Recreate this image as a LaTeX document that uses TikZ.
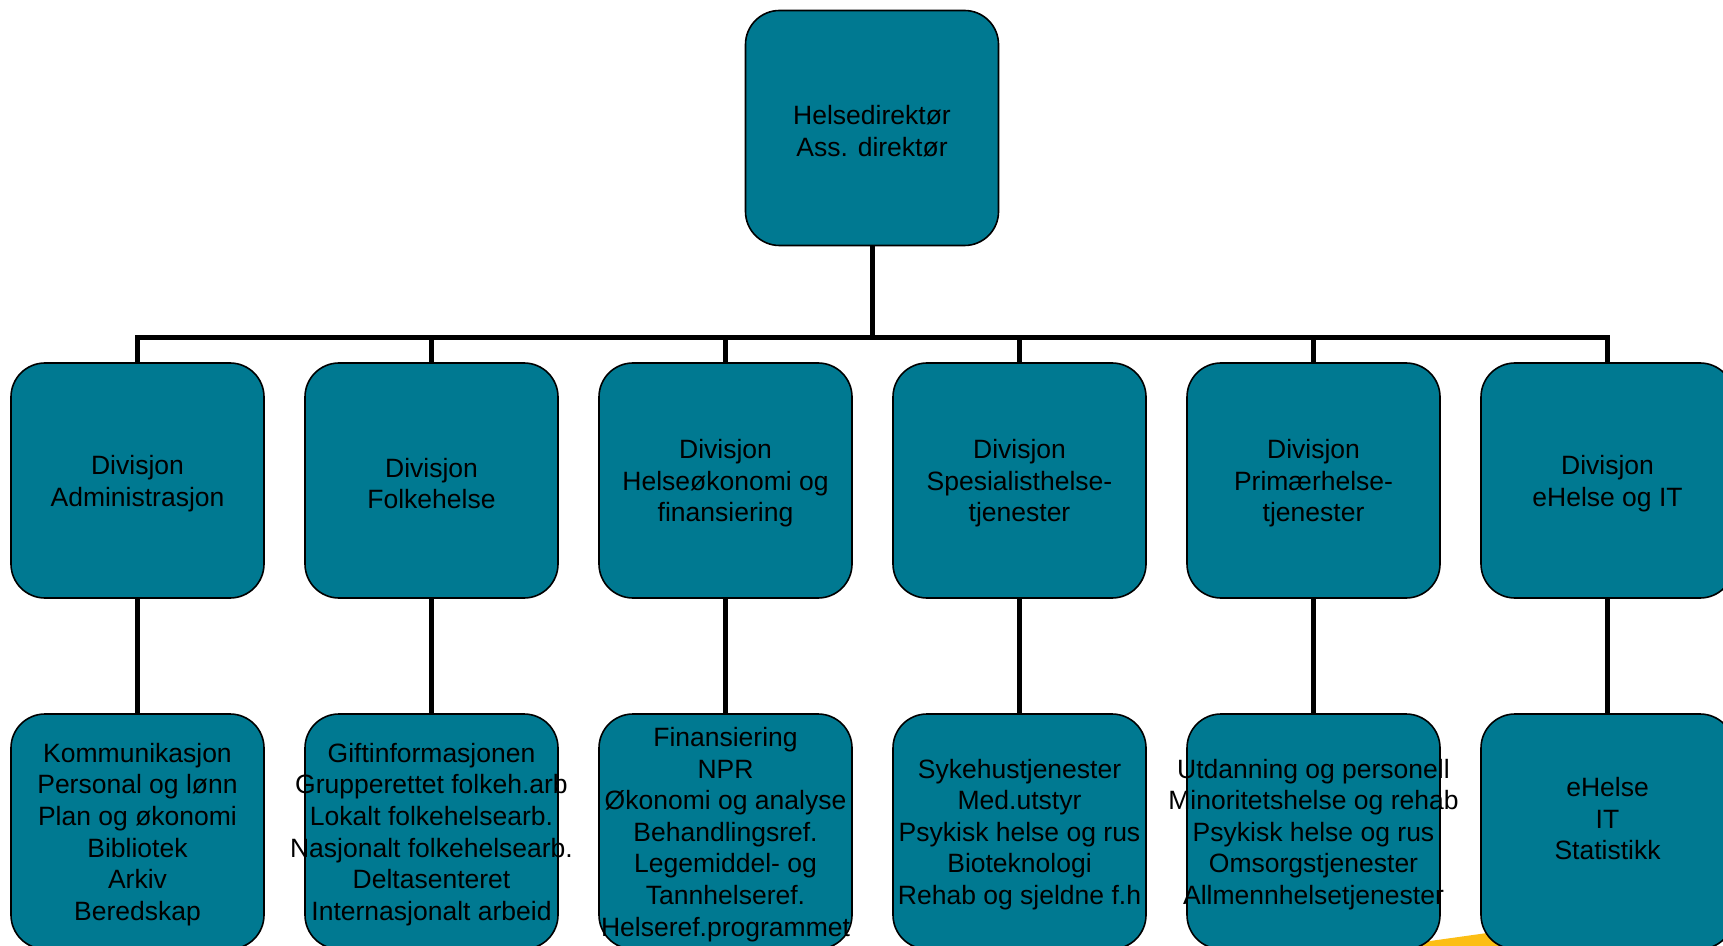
\documentclass[tikz,border=0pt]{standalone}
\usepackage{fontspec}
\setmainfont{Liberation Sans}
\usetikzlibrary{positioning}
\definecolor{hdteal}{RGB}{0,121,145}
\definecolor{hdyellow}{RGB}{252,190,20}

\begin{document}
\begin{tikzpicture}[x=0.5pt, y=-0.5pt,
        orgbox/.style={draw=black, line width=0.8pt, fill=hdteal, rounded corners=17pt,
            minimum width=126.5pt, minimum height=117.5pt, inner sep=0pt, outer sep=0pt},
        boxtext/.style={align=center, inner sep=0pt, yshift=-1.5pt, font=\fontsize{13.25}{15.8}\selectfont},
        conn/.style={line width=2.5pt},
        node distance=20.5pt]
    \useasboundingbox (0,0) rectangle (1723,946);
    \clip (0,0) rectangle (1723,946);
    \fill[hdyellow] (1395,946) -- (1395,945.9) -- (1500,931.2) -- (1500,946) -- cycle;
    % top
    \node[orgbox, label={[boxtext]center:Helsedirektør\\Ass. direktør}] (dir) at (872,128) {};
    \coordinate (bar) at (872,338);
    % divisions
    \node[orgbox, label={[boxtext]center:Divisjon\\Administrasjon}] (adm) at (137.5,480.5) {};
    \node[orgbox, right=of adm, label={[boxtext]center:Divisjon\\Folkehelse}] (folk) {};
    \node[orgbox, right=of folk, label={[boxtext]center:Divisjon\\Helseøkonomi og\\finansiering}] (okon) {};
    \node[orgbox, right=of okon, label={[boxtext]center:Divisjon\\Spesialisthelse-\\tjenester}] (spes) {};
    \node[orgbox, right=of spes, label={[boxtext]center:Divisjon\\Primærhelse-\\tjenester}] (prim) {};
    \node[orgbox, right=of prim, label={[boxtext]center:Divisjon\\eHelse og IT}] (ehit) {};
    % departments
    \node[orgbox, below=58pt of adm, label={[boxtext]center:Kommunikasjon\\Personal og lønn\\Plan og økonomi\\Bibliotek\\Arkiv\\Beredskap}] (adm1) {};
    \node[orgbox, below=58pt of folk, label={[boxtext]center:Giftinformasjonen\\Grupperettet folkeh.arb\\Lokalt folkehelsearb.\\Nasjonalt folkehelsearb.\\Deltasenteret\\Internasjonalt arbeid}] (folk1) {};
    \node[orgbox, below=58pt of okon, label={[boxtext]center:Finansiering\\NPR\\Økonomi og analyse\\Behandlingsref.\\Legemiddel- og\\Tannhelseref.\\Helseref.programmet}] (okon1) {};
    \node[orgbox, below=58pt of spes, label={[boxtext]center:Sykehustjenester\\Med.utstyr\\Psykisk helse og rus\\Bioteknologi\\Rehab og sjeldne f.h}] (spes1) {};
    \node[orgbox, below=58pt of prim, label={[boxtext]center:Utdanning og personell\\Minoritetshelse og rehab\\Psykisk helse og rus\\Omsorgstjenester\\Allmennhelsetjenester}] (prim1) {};
    \node[orgbox, below=58pt of ehit, label={[boxtext]center:eHelse\\IT\\Statistikk\\\mbox{}}] (ehit1) {};
    % connectors
    \draw[conn] (dir.south) -- (bar);
    \foreach \d in {adm, folk, okon, spes, prim, ehit} {
        \draw[conn] (bar) -| (\d.north);
        \draw[conn] (\d.south) -- (\d1.north);
    }
\end{tikzpicture}
\end{document}
